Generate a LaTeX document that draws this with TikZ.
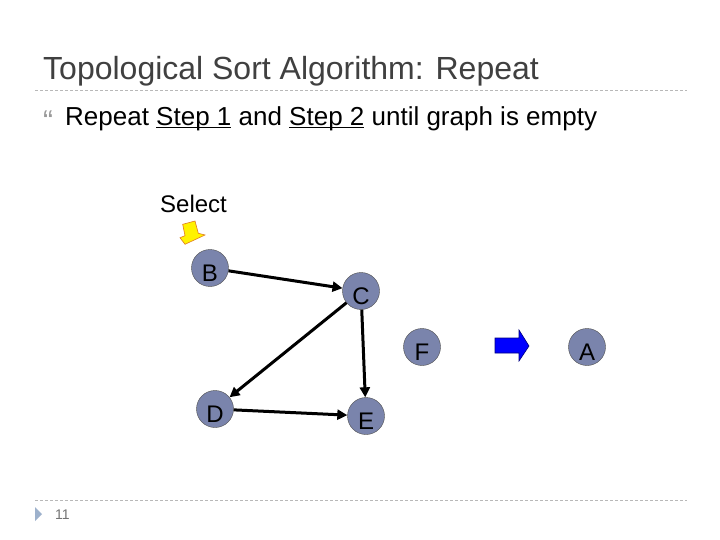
\documentclass[tikz,border=0pt]{standalone}
\usepackage{fontspec}
\setmainfont{Liberation Sans}
\usetikzlibrary{arrows.meta}
\definecolor{titlegray}{HTML}{404040}
\definecolor{vertexfill}{HTML}{7A84AC}
\definecolor{rulegray}{HTML}{B8B8B8}
\definecolor{footblue}{HTML}{9DB1CC}
\definecolor{selorange}{HTML}{E07A20}
\definecolor{navy}{HTML}{000080}
\begin{document}
\begin{tikzpicture}[x=1pt,y=-1pt,
  vertex/.style={circle,draw=black!70,fill=vertexfill,minimum size=37pt,inner sep=0pt,
    text height=26pt,text depth=0pt,font=\fontsize{24}{24}\selectfont},
  edge/.style={line width=3pt,-{Triangle[length=10pt,width=10pt]}},
  rule/.style={rulegray,dash pattern=on 3pt off 2pt,line width=.8pt},
  txt/.style={anchor=base west,inner sep=0pt}]
  \useasboundingbox[fill=white] (0,0) rectangle (720,540);
  % heading and bullet
  \node[txt,text=titlegray,font=\fontsize{32}{32}\selectfont] (title) at (43,80) {Topological Sort Algorithm: Repeat};
  \draw[rule] (35,90) -- (687,90);
  \node[txt,text=gray!80,font=\fontsize{30}{30}\selectfont] (bullet) at (43,132) {“};
  \node[txt,font=\fontsize{26}{26}\selectfont] (step) at (65,126)
    {Repeat \underline{\smash{Step 1}} and \underline{\smash{Step 2}} until graph is empty};
  % graph
  \node[txt,font=\fontsize{24}{24}\selectfont] (select) at (160,213) {Select};
  \filldraw[fill=yellow,draw=selorange,line width=.6pt]
    (182.7,224.3) -- (195,221) -- (198.3,233.3) -- (205,235) -- (185,244.3)
    -- (180,237.7) -- (185,235.7) -- cycle;
  \foreach \v/\x/\y in {B/210/268,C/361/291,D/215/409,E/366/416,F/422/347,A/587/347}
    \node[vertex] (\v) at (\x,\y) {\v};
  \draw[edge] (B) -- (C);
  \draw[edge] (C) -- (D);
  \draw[edge] (C) -- (E);
  \draw[edge] (D) -- (E);
  \filldraw[fill=blue,draw=navy,line width=.6pt]
    (495,338) -- (519,338) -- (519,330) -- (529,346) -- (519,361) -- (519,353)
    -- (495,353) -- cycle;
  % footer
  \draw[rule] (35,500) -- (687,500);
  \fill[footblue] (35,507) -- (42,514) -- (35,521) -- cycle;
  \node[txt,text=gray!90!black,font=\fontsize{14}{14}\selectfont] (page) at (55,519) {11};
\end{tikzpicture}
\end{document}
